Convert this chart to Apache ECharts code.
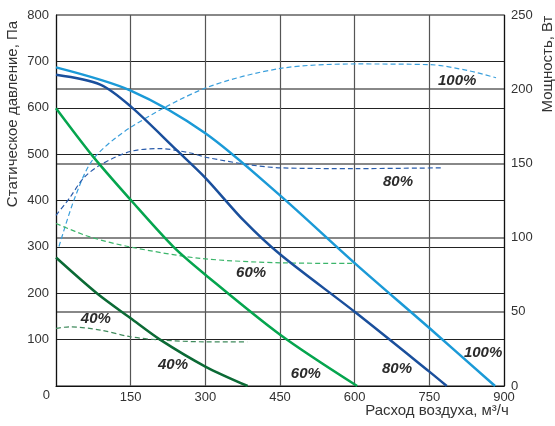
<!DOCTYPE html>
<html><head><meta charset="utf-8">
<script src="https://cdn.jsdelivr.net/npm/echarts@6/dist/echarts.min.js"></script>
<style>html,body{margin:0;padding:0;background:#fff}#c{width:555px;height:426px}</style>
</head><body><div id="c"></div>
<script>
// Pressure curves (Pa) vs flow (m3/h)
const flow100 = [0, 150, 300, 450, 600, 750, 882];
const press100 = [687, 637, 545, 411, 265, 125, 0];
const flow80 = [0, 89, 150, 243, 300, 377, 450, 600, 750, 785];
const press80 = [671, 650, 603, 508, 449, 357, 284, 160, 31, 0];
const flow60 = [0, 75, 151, 236, 300, 451, 605];
const press60 = [599, 494, 400, 300, 240, 110, 0];
const flow40 = [0, 82, 150, 209, 300, 385];
const press40 = [277, 200, 146, 100, 42, 0];
// Power curves (W) vs flow
const pflow100 = [6, 38, 75, 151, 300, 451, 602, 753, 827, 884];
const power100 = [94, 127, 153, 174.5, 200.7, 214, 217, 216.5, 212.6, 207.7];
const pflow80 = [0, 28, 55, 89, 149, 209, 270, 303, 390, 451, 602, 773];
const power80 = [115, 127, 140, 149, 158, 160, 157, 154, 149, 147, 146.5, 147];
const pflow60 = [0, 68, 149, 290, 454, 602];
const power60 = [109.5, 100.5, 93.7, 86, 83, 82.6];
const pflow40 = [0, 28, 89, 149, 209, 297, 384];
const power40 = [38.8, 39.9, 37.7, 33.2, 31, 29.8, 29.8];
// Curve labels [flow, pressure]
const labelNames = ['100%', '80%', '60%', '40%', '40%', '60%', '80%', '100%'];
const labelFlow = [806, 687, 392, 80, 235, 502, 685, 858];
const labelPress = [659, 441, 243, 144, 45, 26, 37, 71];
// Axes
const yLeftMax = 800, yRightMax = 250;

const zip = (a, b) => a.map((v, i) => [v, b[i]]);
const chart = echarts.init(document.getElementById('c'), null, {renderer: 'canvas'});
const txt = '#333';
const font = 'Arial, "Liberation Sans", sans-serif';
const solid = (d, color) => ({type: 'line', data: d, smooth: 0.3, symbol: 'none',
  lineStyle: {color, width: 2.5}, z: 4});
const dashed = (d, color) => ({type: 'line', data: d, smooth: 0.3, symbol: 'none', yAxisIndex: 1,
  lineStyle: {color, width: 1.2, type: [5, 3]}, z: 3});

chart.setOption({
  animation: false,
  grid: {left: 56, right: 51, top: 15, bottom: 40, containLabel: false},
  xAxis: {type: 'value', min: 0, max: 900, interval: 150,
    axisLine: {show: true, lineStyle: {color: '#111', width: 1.2}},
    axisTick: {show: false},
    axisLabel: {color: txt, fontSize: 13, fontFamily: font, margin: 5,
      formatter: v => v === 0 ? '' : String(v)},
    splitLine: {show: true, lineStyle: {color: '#555', width: 1.2}}},
  yAxis: [
    {type: 'value', min: 0, max: yLeftMax, interval: 100, position: 'left',
      axisLine: {show: true, lineStyle: {color: '#111', width: 1.2}},
      axisTick: {show: false},
      axisLabel: {color: txt, fontSize: 13, fontFamily: font, margin: 7,
        formatter: v => v === 0 ? '' : String(v)},
      splitLine: {show: true, lineStyle: {color: '#222', width: 1.2}}},
    {type: 'value', min: 0, max: yRightMax, interval: 50, position: 'right',
      axisLine: {show: true, lineStyle: {color: '#111', width: 1.2}},
      axisTick: {show: false},
      axisLabel: {color: txt, fontSize: 13, fontFamily: font, margin: 7},
      splitLine: {show: true, lineStyle: {color: '#888', width: 2}}}
  ],
  series: [
    dashed(zip(pflow100, power100), '#3a9fdc'),
    dashed(zip(pflow80, power80), '#2a5cab'),
    dashed(zip(pflow60, power60), '#3bb56a'),
    dashed(zip(pflow40, power40), '#3f8a5c'),
    solid(zip(flow100, press100), '#1b9ad7'),
    solid(zip(flow80, press80), '#1a4f9c'),
    solid(zip(flow60, press60), '#05a54e'),
    solid(zip(flow40, press40), '#0b6a35'),
    {type: 'scatter', symbolSize: 0, z: 6, itemStyle: {opacity: 1},
      data: labelNames.map((n, i) => ({name: n, value: [labelFlow[i], labelPress[i]]})),
      label: {show: true, position: 'inside', formatter: p => p.name, opacity: 1,
        color: '#2b2b2b', textBorderWidth: 0, fontSize: 15, fontWeight: 'bold', fontStyle: 'italic', fontFamily: font}}
  ],
  graphic: [
    {type: 'text', x: 13, y: 114, rotation: Math.PI / 2,
      style: {text: 'Статическое давление, Па', fill: txt, font: '15px ' + font,
        textAlign: 'center', textVerticalAlign: 'middle'}},
    {type: 'text', x: 548, y: 64, rotation: Math.PI / 2,
      style: {text: 'Мощность, Вт', fill: txt, font: '15px ' + font,
        textAlign: 'center', textVerticalAlign: 'middle'}},
    {type: 'text', x: 437, y: 411,
      style: {text: 'Расход воздуха, м³/ч', fill: txt, font: '15px ' + font,
        textAlign: 'center', textVerticalAlign: 'middle'}},
    {type: 'text', x: 50, y: 395,
      style: {text: '0', fill: txt, font: '13px ' + font,
        textAlign: 'right', textVerticalAlign: 'middle'}}
  ]
});
</script></body></html>
